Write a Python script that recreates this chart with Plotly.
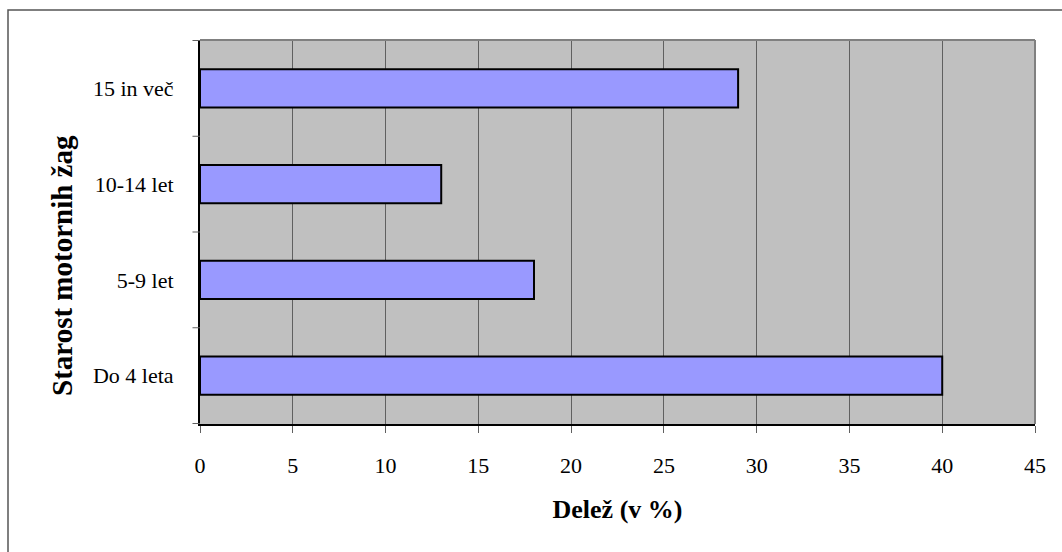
import plotly.graph_objects as go

categories = ["Do 4 leta", "5-9 let", "10-14 let", "15 in več"]
values = [40, 18, 13, 29]
x_ticks = [0, 5, 10, 15, 20, 25, 30, 35, 40, 45]
x_title = "Delež (v %)"
y_title = "Starost motornih žag"

W, H = 1062, 552
L, R, T, B = 200, 1062 - 1035, 40, 552 - 424
pw, ph = W - L - R, H - T - B

fig = go.Figure(go.Bar(
    x=values, y=categories, orientation="h",
    marker=dict(color="#9999FF", line=dict(color="black", width=2)),
    width=0.4,
))

font = "Liberation Serif, Times New Roman, serif"
fig.update_layout(
    width=W, height=H,
    margin=dict(l=L, r=R, t=T, b=B),
    paper_bgcolor="white", plot_bgcolor="#C0C0C0",
    showlegend=False,
    font=dict(family=font, size=22, color="black"),
    bargap=0.6,
)
fig.update_xaxes(
    range=[0, 45], tickvals=x_ticks, ticktext=[str(v) for v in x_ticks],
    showgrid=True, gridcolor="#606060", gridwidth=1,
    ticks="outside", ticklen=7, tickcolor="#606060",
    showline=True, linecolor="black", linewidth=2,
    zeroline=False,
    title=dict(text="<b>" + x_title + "</b>", font=dict(size=26), standoff=22),
    tickfont=dict(size=22), ticklabelstandoff=14,
)
fig.update_yaxes(
    showgrid=False, ticks="", showline=True, linecolor="black", linewidth=2,
    tickfont=dict(size=22), ticklabelstandoff=20,
)
# y-axis title (placed lower than centre, as in the reference)
fig.add_annotation(
    text="<b>" + y_title + "</b>", textangle=-90, showarrow=False,
    xref="paper", yref="paper",
    x=(62 - L) / pw, y=1 - (266 - T) / ph,
    xanchor="center", yanchor="middle",
    font=dict(size=29, family=font, color="black"),
)
# category boundary tick marks on y axis
for i in range(5):
    fig.add_shape(type="line", xref="paper", yref="y",
                  x0=-0.009, x1=0, y0=i - 0.5, y1=i - 0.5,
                  line=dict(color="#606060", width=1))
# top and right frame of plot area
fig.add_shape(type="line", xref="paper", yref="paper", x0=0, x1=1, y0=1, y1=1,
              line=dict(color="#808080", width=2))
fig.add_shape(type="line", xref="paper", yref="paper", x0=1, x1=1, y0=0, y1=1,
              line=dict(color="#808080", width=2))
# outer chart border (only top and left visible)
x0 = (8 - L) / pw
y1 = 1 + (T - 10) / ph
fig.add_shape(type="rect", xref="paper", yref="paper",
              x0=x0, x1=(W + 5 - L) / pw, y0=-(B + 5) / ph, y1=y1,
              line=dict(color="#555555", width=1.5), layer="below")

fig.write_html("out.html", config={"displayModeBar": False},
               post_script="document.body.style.margin='0';")
